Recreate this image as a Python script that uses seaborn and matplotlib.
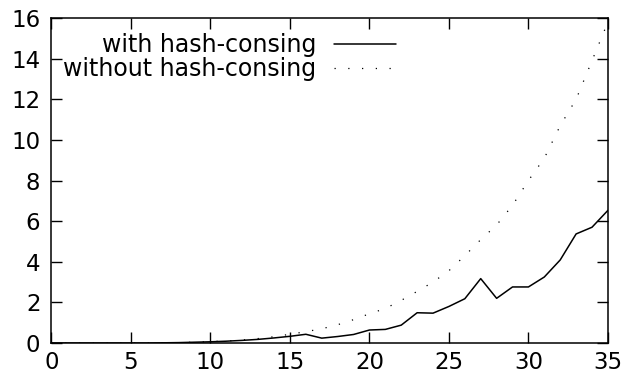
import numpy as np
import pandas as pd
import matplotlib
matplotlib.use("Agg")
import matplotlib.pyplot as plt
import seaborn as sns

# values
x_values = list(range(0, 36))
with_hc = [0.0, 0.0, 0.0, 0.0, 0.0, 0.0, 0.0, 0.01, 0.02, 0.04,
           0.06, 0.09, 0.13, 0.18, 0.25, 0.33, 0.43, 0.24, 0.32, 0.42,
           0.64, 0.67, 0.88, 1.49, 1.47, 1.80, 2.18, 3.17, 2.20, 2.76,
           2.76, 3.25, 4.09, 5.37, 5.70, 6.53]
without_hc = [0.0, 0.0, 0.0, 0.0, 0.0, 0.0, 0.0, 0.01, 0.02, 0.04,
              0.07, 0.10, 0.15, 0.22, 0.31, 0.43, 0.56, 0.70, 0.90, 1.15,
              1.44, 1.70, 2.10, 2.54, 3.00, 3.56, 4.30, 5.09, 5.81, 6.78,
              8.00, 9.10, 10.70, 12.00, 13.90, 15.80]
series_labels = ["with hash-consing", "without hash-consing"]
x_ticks = [0, 5, 10, 15, 20, 25, 30, 35]
y_ticks = [0, 2, 4, 6, 8, 10, 12, 14, 16]

df = pd.DataFrame({"x": x_values, "with": with_hc, "without": without_hc})

sns.set_style("ticks")
plt.rcParams["font.family"] = ["DejaVu Sans"]
plt.rcParams["text.color"] = "black"

fig = plt.figure(figsize=(6.28, 3.81), dpi=100)
ax = fig.add_axes([0.082, 0.0997, 0.886, 0.853])

sns.lineplot(data=df, x="x", y="with", ax=ax, color="black", linewidth=1.1,
             label=series_labels[0])
sns.lineplot(data=df, x="x", y="without", ax=ax, color="black", linewidth=0.9,
             linestyle=(0, (1, 10)), label=series_labels[1])

ax.set_xlim(0, 35)
ax.set_ylim(0, 16)
ax.set_xticks(x_ticks)
ax.set_yticks(y_ticks)
ax.set_xlabel("")
ax.set_ylabel("")
for side in ["top", "right", "bottom", "left"]:
    ax.spines[side].set_visible(True)
    ax.spines[side].set_linewidth(1.1)
    ax.spines[side].set_color("black")
ax.tick_params(direction="in", length=8, width=1.0, top=True, right=True,
               labelsize=16.5, colors="black")
ax.tick_params(axis="x", pad=6)
ax.tick_params(axis="y", pad=8)

# gnuplot-style key: right-aligned text with the sample after it
leg = ax.legend(loc="upper right", bbox_to_anchor=(0.627, 0.968), frameon=False,
                markerfirst=False, handlelength=2.6, handletextpad=0.75,
                labelspacing=0.0, borderaxespad=0.0, borderpad=0.2,
                fontsize=17)
for t in leg.get_texts():
    t.set_color("black")

fig.savefig("out.png", dpi=100)
